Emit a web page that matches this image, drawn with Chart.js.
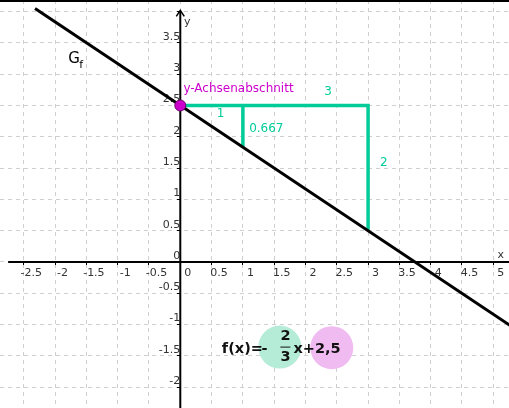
<!DOCTYPE html>
<html>
<head>
<meta charset="utf-8">
<script src="https://cdn.jsdelivr.net/npm/chart.js@4/dist/chart.umd.min.js"></script>
<style>
  html, body { margin: 0; padding: 0; background: #fff; }
  canvas { display: block; }
</style>
</head>
<body>
<canvas id="plot" width="509" height="408"></canvas>
<script>
// Werte
const graphX = [-2.32, 5.5];
const graphY = [4.05, -1.17];
const stepX = [0, 3, 3];
const stepY = [2.5, 2.5, 0.5];
const riseX = [1, 1];
const riseY = [2.5, 1.83];
const interceptX = [0];
const interceptY = [2.5];
const bubbleX = [1.59, 2.42];
const bubbleY = [-1.36, -1.37];

const xTickValues = [-2.5, -2, -1.5, -1, -0.5, 0, 0.5, 1, 1.5, 2, 2.5, 3, 3.5, 4, 4.5, 5];
const xTickLabels = ['-2.5', '-2', '-1.5', '-1', '-0.5', '0', '0.5', '1', '1.5', '2', '2.5', '3', '3.5', '4', '4.5', '5'];
const yTickValues = [-2, -1.5, -1, -0.5, 0, 0.5, 1, 1.5, 2, 2.5, 3, 3.5, 4];
const yTickLabels = ['-2', '-1.5', '-1', '-0.5', '0', '0.5', '1', '1.5', '2', '2.5', '3', '3.5', ''];

const GREEN = '#00cc99';
const MAGENTA = '#cc00cc';
const FONT = 'DejaVu Sans';

const pts = (xs, ys) => xs.map((x, i) => ({ x: x, y: ys[i] }));

// Beschriftungen im Koordinatensystem
const notes = [
  { text: 'y-Achsenabschnitt', x: 0.05, y: 2.76, color: MAGENTA, size: 12, align: 'left' },
  { text: '1', x: 0.645, y: 2.36, color: GREEN, size: 12, align: 'center' },
  { text: '0.667', x: 1.1, y: 2.12, color: GREEN, size: 12, align: 'left' },
  { text: '3', x: 2.36, y: 2.72, color: GREEN, size: 12, align: 'center' },
  { text: '2', x: 3.25, y: 1.59, color: GREEN, size: 12, align: 'center' },
  { text: 'y', x: 0.11, y: 3.83, color: '#333', size: 11, align: 'center' },
  { text: 'x', x: 5.12, y: 0.11, color: '#333', size: 11, align: 'center' },
];

// Funktionsterm: Text, Versatz in px zum Anker, Ausrichtung
const termParts = [
  ['f(x)=', -1, 6, 'left'], ['-', 41.6, 6, 'center'],
  ['2', 62.6, -7, 'center'], ['3', 62.6, 14, 'center'],
  ['x+2,5', 70.6, 6, 'left'],
];

const decor = {
  id: 'decor',
  beforeDatasetsDraw(chart) {
    const { ctx, scales: { x, y } } = chart;
    const x0 = x.getPixelForValue(0);
    const y0 = y.getPixelForValue(0);
    const top = y.getPixelForValue(4.02);
    ctx.save();
    ctx.strokeStyle = '#000';
    ctx.lineWidth = 2;
    ctx.beginPath();
    ctx.moveTo(x.getPixelForValue(-2.75), y0);
    ctx.lineTo(chart.width, y0);
    ctx.moveTo(x0, top + 1);
    ctx.lineTo(x0, chart.height);
    ctx.stroke();
    ctx.lineWidth = 1.5;
    ctx.beginPath();
    ctx.moveTo(x0 - 4, top + 6);
    ctx.lineTo(x0, top);
    ctx.lineTo(x0 + 4, top + 6);
    ctx.stroke();
    ctx.restore();
  },
  afterDatasetsDraw(chart) {
    const { ctx, scales: { x, y } } = chart;
    ctx.save();
    ctx.textBaseline = 'middle';
    notes.forEach(n => {
      ctx.font = n.size + 'px "' + FONT + '"';
      ctx.fillStyle = n.color;
      ctx.textAlign = n.align;
      ctx.fillText(n.text, x.getPixelForValue(n.x), y.getPixelForValue(n.y));
    });

    // G_f
    const gx = x.getPixelForValue(-1.79);
    const gy = y.getPixelForValue(3.24);
    ctx.fillStyle = '#000';
    ctx.textAlign = 'left';
    ctx.font = '15px "' + FONT + '"';
    ctx.fillText('G', gx, gy);
    ctx.font = '11px "' + FONT + '"';
    ctx.fillText('f', gx + 11, gy + 6);

    // f(x) = -2/3 x + 2,5
    const fx = x.getPixelForValue(0.68);
    const fy = y.getPixelForValue(-1.36);
    ctx.textBaseline = 'alphabetic';
    ctx.fillStyle = '#111';
    ctx.font = 'bold 14.5px "' + FONT + '"';
    termParts.forEach(([t, dx, dy, al]) => {
      ctx.textAlign = al;
      ctx.fillText(t, fx + dx, fy + dy);
    });
    ctx.fillRect(fx + 57.5, fy - 0.5, 10, 1);

    // Rahmen oben
    ctx.fillStyle = '#000';
    ctx.fillRect(0, 0, chart.width, 2);
    ctx.restore();
  }
};

const flatAxis = size => s => {
  s[size] = 0;
  s.paddingTop = 0; s.paddingBottom = 0;
  s.paddingLeft = 0; s.paddingRight = 0;
};

new Chart(document.getElementById('plot').getContext('2d'), {
  type: 'scatter',
  data: {
    datasets: [
      {
        data: pts(interceptX, interceptY),
        pointRadius: 5.5,
        pointBackgroundColor: MAGENTA,
        pointBorderColor: '#6a006a',
        pointBorderWidth: 1,
      },
      {
        data: pts(graphX, graphY),
        showLine: true,
        borderColor: '#000',
        borderWidth: 3,
        pointRadius: 0,
      },
      {
        data: pts(stepX, stepY),
        showLine: true,
        borderColor: GREEN,
        borderWidth: 3.5,
        borderJoinStyle: 'miter',
        pointRadius: 0,
      },
      {
        data: pts(riseX, riseY),
        showLine: true,
        borderColor: GREEN,
        borderWidth: 3.5,
        pointRadius: 0,
      },
      {
        data: pts(bubbleX, bubbleY),
        pointRadius: 21.5,
        pointBackgroundColor: ['#b5ecd8', '#f0bbf0'],
        pointBorderWidth: 0,
      },
    ],
  },
  options: {
    responsive: false,
    devicePixelRatio: 1,
    animation: false,
    layout: { padding: 0, autoPadding: false },
    plugins: {
      legend: { display: false },
      tooltip: { enabled: false },
    },
    scales: {
      x: {
        type: 'linear',
        position: { y: 0 },
        min: -2.88,
        max: 5.251,
        afterBuildTicks: s => { s.ticks = xTickValues.map(v => ({ value: v })); },
        afterFit: flatAxis('height'),
        grid: { color: '#cfcfcf', lineWidth: 1, tickLength: 3, tickColor: '#000', tickWidth: 1 },
        border: { display: false, dash: [4, 4] },
        ticks: {
          autoSkip: false,
          maxRotation: 0,
          padding: 2,
          labelOffset: 7.5,
          color: '#333',
          font: { family: FONT, size: 11 },
          callback: (v, i) => xTickLabels[i],
        },
      },
      y: {
        type: 'linear',
        position: { x: 0 },
        min: -2.333,
        max: 4.185,
        afterBuildTicks: s => { s.ticks = yTickValues.map(v => ({ value: v })); },
        afterFit: flatAxis('width'),
        grid: { color: '#cfcfcf', lineWidth: 1, tickLength: 3, tickColor: '#000', tickWidth: 1 },
        border: { display: false, dash: [4, 4] },
        ticks: {
          autoSkip: false,
          padding: 2,
          labelOffset: -6,
          color: '#333',
          font: { family: FONT, size: 11 },
          callback: (v, i) => yTickLabels[i],
        },
      },
    },
  },
  plugins: [decor],
});
</script>
</body>
</html>
